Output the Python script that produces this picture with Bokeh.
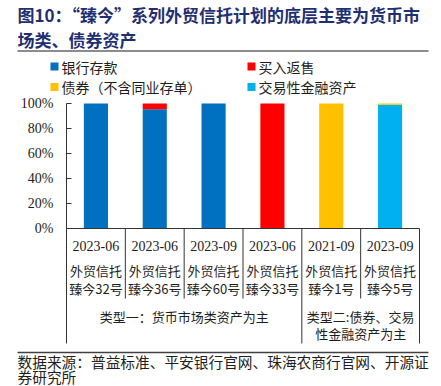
from bokeh.plotting import figure
from bokeh.models import (Range1d, FixedTicker, PrintfTickFormatter, ColumnDataSource,
                          LinearAxis)
from bokeh.core.properties import value
from bokeh.embed import file_html
from bokeh.resources import INLINE

# ---------------- data ----------------
dates = ["2023-06", "2023-06", "2023-09", "2023-06", "2021-09", "2023-09"]
names1 = ["外贸信托"] * 6
names2 = ["臻今32号", "臻今36号", "臻今60号", "臻今33号", "臻今1号", "臻今5号"]
series = ["银行存款", "买入返售", "交易性金融资产", "债券（不含同业存单）"]
bank_deposit = [100.0, 95.4, 100.0, 0.0, 0.0, 0.0]
reverse_repo = [0.0, 4.6, 0.0, 100.0, 0.0, 0.0]
trading_assets = [0.0, 0.0, 0.0, 0.0, 0.0, 99.0]
bonds = [0.0, 0.0, 0.0, 0.0, 100.0, 1.0]
colors = ["#0070C0", "#FF0000", "#00B0F0", "#FFC000"]
y_ticks = [0, 20, 40, 60, 80, 100]
groups = ["类型一：货币市场类资产为主", "类型二:债券、交易", "性金融资产为主"]
legend_order = ["银行存款", "买入返售", "债券（不含同业存单）", "交易性金融资产"]
legend_colors = ["#0070C0", "#FF0000", "#FFC000", "#00B0F0"]
title1 = "图10：“臻今”系列外贸信托计划的底层主要为货币市"
title2 = "场类、债券资产"
source1 = "数据来源：普益标准、平安银行官网、珠海农商行官网、开源证"
source2 = "券研究所"

# ---------------- geometry (page pixels -> data) ----------------
W, H = 441, 386
FL, FR = 66, 419            # plot area left / right in page pixels
SX = (FR - FL) / 6.0        # pixels per category
SY = 1.25                   # pixels per percent


def X(px):
    return (px - FL) / SX


def Y(py):
    return (228 - py) / SY


CJK = "Noto Sans CJK SC"
TXT = "#1e1e1e"
LC = "#333333"

p = figure(width=W, height=H, output_backend="svg", toolbar_location=None,
           x_range=Range1d(X(0), X(W)), y_range=Range1d(Y(H), Y(0)),
           x_axis_location=None, y_axis_location=None, min_border=0,
           outline_line_color=None, background_fill_color="white",
           border_fill_color="white")
p.grid.visible = False

ax = LinearAxis(fixed_location=0, ticker=FixedTicker(ticks=y_ticks),
                formatter=PrintfTickFormatter(format="%d%%"))
ax.axis_line_color = None
ax.major_tick_in = 5
ax.major_tick_out = 0
ax.major_tick_line_color = LC
ax.minor_tick_line_color = None
ax.major_label_text_font = "Liberation Serif"
ax.major_label_text_font_size = "14px"
ax.major_label_text_color = TXT
ax.major_label_standoff = 13
p.add_layout(ax, "left")

# bars
xs = [i + 0.5 for i in range(len(dates))]
src = ColumnDataSource(dict(x=xs, **{
    series[0]: bank_deposit, series[1]: reverse_repo,
    series[2]: trading_assets, series[3]: bonds}))
p.vbar_stack(series, x="x", width=0.41, color=colors, line_color=None, source=src)

# axis / table lines
p.segment(x0=[0], y0=[Y(343)], x1=[0], y1=[100], line_color=LC, line_width=1)
p.segment(x0=[0], y0=[0], x1=[6], y1=[0], line_color=LC, line_width=1)
p.segment(x0=[1, 2, 3, 5], y0=[0] * 4, x1=[1, 2, 3, 5], y1=[Y(298)] * 4,
          line_color=LC, line_width=1)
p.segment(x0=[4, 6], y0=[0] * 2, x1=[4, 6], y1=[Y(343)] * 2, line_color=LC, line_width=1)

# category labels
tsrc = ColumnDataSource(dict(x=xs, d=dates, n1=names1, n2=names2,
                             y0=[Y(245)] * 6, y1=[Y(270)] * 6, y2=[Y(288)] * 6))
p.text(x="x", y="y0", text="d", source=tsrc, text_font=value("Liberation Serif"),
       text_font_size="14px", text_align="center", text_baseline="middle",
       text_color=TXT)
p.text(x="x", y="y1", text="n1", source=tsrc, text_font=value(CJK),
       text_font_size="13px", text_align="center", text_baseline="middle",
       text_color=TXT)
p.text(x="x", y="y2", text="n2", source=tsrc, text_font=value(CJK),
       text_font_size="13px", text_align="center", text_baseline="middle",
       text_color=TXT)
gsrc = ColumnDataSource(dict(x=[2.0, 5.0, 5.0], y=[Y(316), Y(316), Y(333)], t=groups))
p.text(x="x", y="y", text="t", source=gsrc, text_font=value(CJK),
       text_font_size="13px", text_align="center", text_baseline="middle",
       text_color=TXT)

# title
navy = "#1f2f72"
p.text(x=[X(17)] * 2, y=[Y(14), Y(39)], text=[title1, title2], text_font=value(CJK),
       text_font_size="17px", text_font_style="bold", text_color=navy,
       text_align="left", text_baseline="middle")
p.segment(x0=[X(17)], y0=[Y(50.5)], x1=[X(428)], y1=[Y(50.5)],
          line_color="#8c8c8c", line_width=2)

# legend
lx = [54, 251, 54, 251]
ly = [66, 66, 86.5, 86.5]
p.rect(x=[X(v) for v in lx], y=[Y(v) for v in ly], width=8, height=8,
       width_units="screen", height_units="screen", fill_color=legend_colors,
       line_color=None)
p.text(x=[X(v + 7) for v in lx], y=[Y(v) for v in ly], text=legend_order,
       text_font=value(CJK), text_font_size="14px", text_color=TXT,
       text_align="left", text_baseline="middle")

# footnote
p.segment(x0=[X(17)], y0=[Y(352)], x1=[X(428)], y1=[Y(352)],
          line_color="#404040", line_width=1.5)
p.text(x=[X(17)] * 2, y=[Y(360.5), Y(376)], text=[source1, source2], text_font=value(CJK),
       text_font_size="14.7px", text_color=TXT, text_align="left",
       text_baseline="middle")

open("out.html", "w").write(file_html(p, INLINE))
